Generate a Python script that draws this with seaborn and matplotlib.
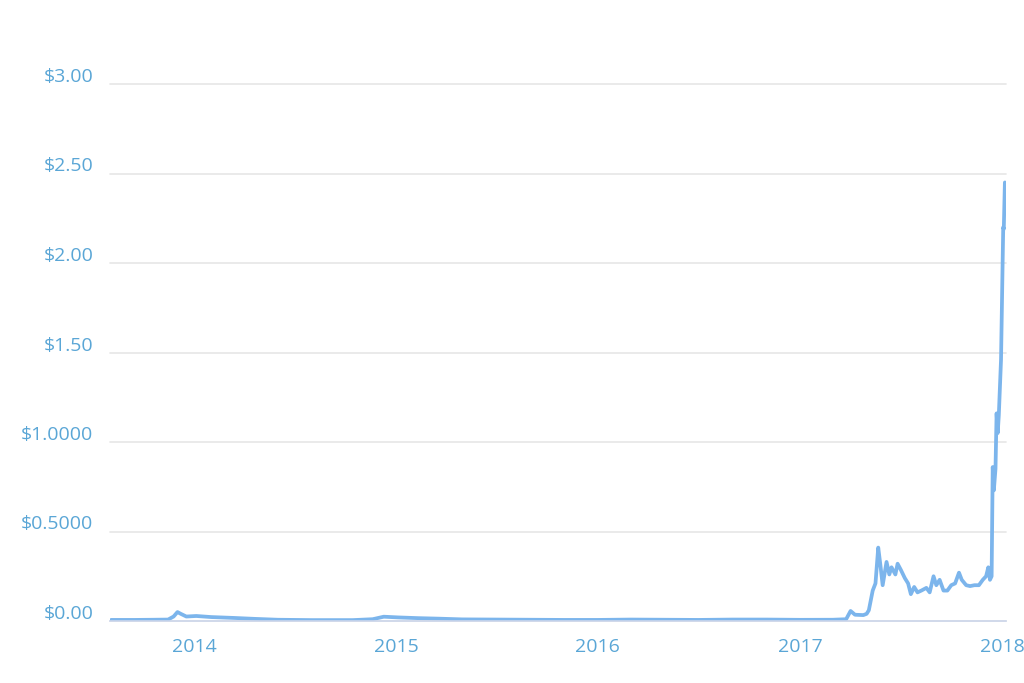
import pandas as pd
import seaborn as sns
import matplotlib.pyplot as plt
from matplotlib.transforms import ScaledTranslation

# price history (USD)
dates = ["2013-08-04", "2013-09-15", "2013-10-20", "2013-11-15", "2013-11-25", "2013-12-02",
         "2013-12-08", "2013-12-18", "2014-01-05", "2014-02-01", "2014-03-15", "2014-04-20",
         "2014-06-01", "2014-08-01", "2014-10-15", "2014-11-20", "2014-12-10", "2015-01-05",
         "2015-02-10", "2015-03-20", "2015-05-01", "2015-07-01", "2015-09-01", "2015-11-01",
         "2016-01-01", "2016-03-01", "2016-05-01", "2016-07-01", "2016-09-01", "2016-11-01",
         "2017-01-01", "2017-03-01", "2017-03-25", "2017-04-02", "2017-04-10", "2017-04-25",
         "2017-05-01", "2017-05-05", "2017-05-12", "2017-05-17", "2017-05-22", "2017-05-26",
         "2017-05-30", "2017-06-06", "2017-06-11", "2017-06-15", "2017-06-22", "2017-06-26",
         "2017-07-02", "2017-07-09", "2017-07-15", "2017-07-20", "2017-07-26", "2017-08-01",
         "2017-08-08", "2017-08-17", "2017-08-23", "2017-08-30", "2017-09-04", "2017-09-10",
         "2017-09-17", "2017-09-24", "2017-10-01", "2017-10-08", "2017-10-15", "2017-10-20",
         "2017-10-28", "2017-11-04", "2017-11-12", "2017-11-20", "2017-11-27", "2017-12-03",
         "2017-12-07", "2017-12-10", "2017-12-13", "2017-12-15", "2017-12-17", "2017-12-20",
         "2017-12-22", "2017-12-24", "2017-12-26", "2017-12-30", "2018-01-02", "2018-01-03",
         "2018-01-04", "2018-01-06"]
prices = [0.006, 0.006, 0.007, 0.008, 0.025, 0.05,
          0.04, 0.025, 0.028, 0.022, 0.017, 0.012,
          0.007, 0.005, 0.005, 0.01, 0.024, 0.02,
          0.016, 0.013, 0.009, 0.008, 0.007, 0.006,
          0.006, 0.008, 0.007, 0.006, 0.008, 0.008,
          0.0065, 0.007, 0.01, 0.056, 0.035, 0.033,
          0.04, 0.06, 0.17, 0.21, 0.41, 0.31,
          0.20, 0.33, 0.26, 0.30, 0.26, 0.32,
          0.285, 0.24, 0.21, 0.15, 0.19, 0.16,
          0.17, 0.185, 0.16, 0.25, 0.20, 0.23,
          0.17, 0.17, 0.20, 0.21, 0.27, 0.23,
          0.20, 0.195, 0.20, 0.20, 0.23, 0.25,
          0.30, 0.23, 0.25, 0.86, 0.73, 0.85,
          1.16, 1.05, 1.15, 1.46, 2.02, 2.2,
          2.19, 2.45]

y_ticks = [0, 0.5, 1.0, 1.5, 2.0, 2.5, 3.0]
y_labels = ["$0.00", "$0.5000", "$1.0000", "$1.50", "$2.00", "$2.50", "$3.00"]
x_ticks = ["2014-01-01", "2015-01-01", "2016-01-01", "2017-01-01", "2018-01-01"]
x_labels = ["2014", "2015", "2016", "2017", "2018"]

df = pd.DataFrame({"date": pd.to_datetime(dates), "price": prices})

sns.set_style("white")
plt.rcParams["font.family"] = ["Open Sans", "DejaVu Sans"]

label_color = "#5aa6d6"
fig = plt.figure(figsize=(10.24, 6.83), dpi=100)
ax = fig.add_axes([110 / 1024, 1 - 621 / 683, 896 / 1024, 537 / 683])

sns.lineplot(data=df, x="date", y="price", ax=ax, color="#7cb5ec", linewidth=2.7)

ax.set_xlim(pd.Timestamp("2013-08-02"), pd.Timestamp("2018-01-08"))
ax.set_ylim(0, 3.0)

ax.set_yticks(y_ticks)
ax.set_yticklabels(y_labels)
ax.set_xticks(pd.to_datetime(x_ticks))
ax.set_xticklabels(x_labels)
ax.set_xlabel("")
ax.set_ylabel("")

# grid and axes
ax.grid(axis="y", color="#e6e6e6", linewidth=1.2)
ax.grid(axis="x", visible=False)
ax.set_axisbelow(True)
for side in ["top", "right", "left"]:
    ax.spines[side].set_visible(False)
ax.spines["bottom"].set_color("#ccd6eb")
ax.spines["bottom"].set_linewidth(1.2)

ax.tick_params(axis="y", length=0, pad=12, labelsize=14, labelcolor=label_color)
ax.tick_params(axis="x", length=8, width=1, color="#ccd6eb", pad=4, labelsize=14, labelcolor=label_color)

# y labels sit a bit above their gridlines
for lbl in ax.get_yticklabels():
    lbl.set_transform(lbl.get_transform() + ScaledTranslation(0, 0.09, fig.dpi_scale_trans))

for line in ax.get_ygridlines():
    line.set_clip_on(False)

fig.savefig("out.png", dpi=100)
